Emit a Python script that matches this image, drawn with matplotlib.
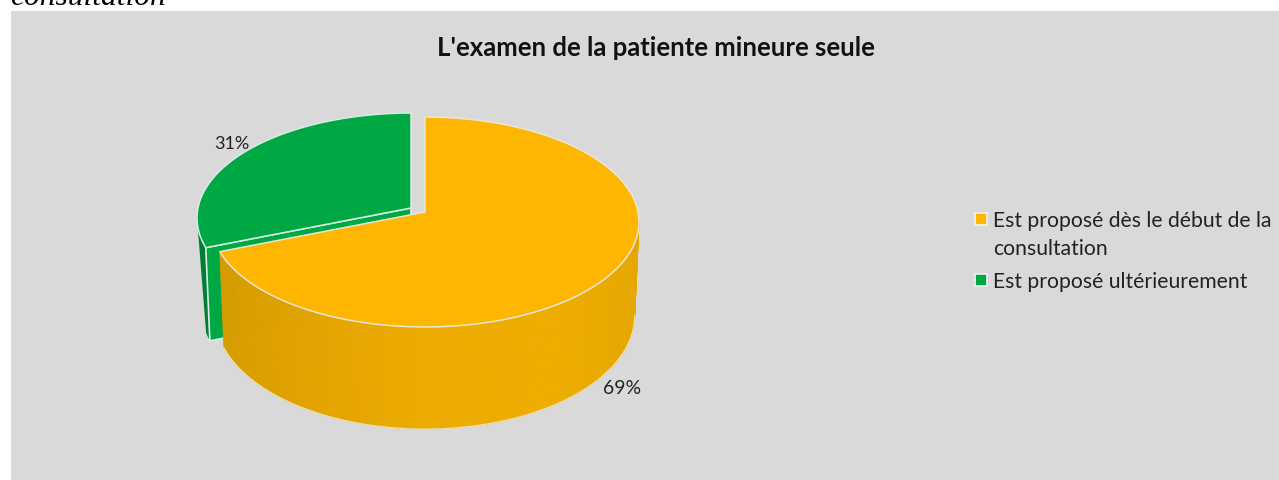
import numpy as np
import matplotlib
matplotlib.use('Agg')
import matplotlib.pyplot as plt
from matplotlib.patches import Polygon, Rectangle

# Chart data
title = "L'examen de la patiente mineure seule"
categories = ['Est proposé dès le début de la\nconsultation', 'Est proposé ultérieurement']
values = [69, 31]
pie_colors = ['#FFB600', '#00A843']

# Pie geometry in pixels, the disc is seen with some perspective
cx, cy = 425, 213
rx, ry = 213, 104
tilt = 0.0952
depth = 93


# Project angles (degrees) of the unit circle to the top surface of the disc
def top_face(theta, dx=0, dy=0):
    t = np.radians(theta)
    w = 1 + tilt * np.sin(t)
    return cx + dx + rx * np.cos(t) / w, cy + dy - ry * np.sin(t) / w


# Same thing for the lower rim, slightly narrower and taller on screen
def bottom_face(theta, dx=0, dy=0):
    t = np.radians(theta)
    w = 1 + tilt * np.sin(t)
    return (cx + dx + 0.98 * rx * np.cos(t) / w,
            cy + dy + depth - 1.08 * ry * np.sin(t) / w)


fig = plt.figure(figsize=(12.79, 4.81), dpi=100)
ax = fig.add_axes([0, 0, 1, 1])
ax.set_xlim(0, 1279)
ax.set_ylim(481, 0)
ax.axis('off')

# Grey chart area, with the cut off line of the document above it
ax.add_patch(Rectangle((10.5, 11.5), 1270, 471, color='#D9D9D9', lw=0, zorder=0))
ax.text(10, 5, 'consultation', family='Liberation Serif', style='italic',
        fontsize=22.7, color='black', va='baseline', ha='left')

# Slice angles, clockwise from the top
start = 90
end_orange = start - 360 * values[0] / sum(values)
end_green = end_orange - 360 * values[1] / sum(values)
edge = '#E9E6D8'

# Green slice, pulled away from the orange one
gx, gy = -14, -4
corner = top_face(end_orange, gx, gy)
corner_low = bottom_face(end_orange, gx, gy - 3)
apex = (cx + gx, cy + gy)
apex_low = (cx + gx, cy + gy + depth)

# outer wall that shows on the far left
xt, yt = top_face(np.linspace(end_orange, end_orange - 12, 12), gx, gy)
xb, yb = bottom_face(np.linspace(end_orange, end_orange - 4, 6), gx, gy - 3)
ax.add_patch(Polygon(np.r_[np.c_[xt, yt], np.c_[xb, yb][::-1]], color='#007F33', lw=0, zorder=1))

# cut face below the green top
ax.add_patch(Polygon([apex, corner, corner_low, apex_low], fc='#00A843', ec='#D8F0E4', lw=1.2, zorder=2))

# top of the green slice
arc = np.linspace(end_orange, end_green, 120)
xa, ya = top_face(arc, gx, gy)
ax.add_patch(Polygon(np.r_[[apex], np.c_[xa, ya]], closed=True, fc=pie_colors[1],
                     ec='#D8ECE4', lw=1.1, zorder=3))

# Orange wall made of thin strips to get the shading
wall = np.linspace(end_orange, -5.46, 141)
shade_x = [205, 300, 420, 560, 640]
shade_r = [212, 226, 236, 238, 230]
shade_g = [155, 163, 171, 173, 167]
for a, b in zip(wall[:-1], wall[1:]):
    xt, yt = top_face(np.array([a, b]))
    xb, yb = bottom_face(np.array([a, b]))
    mid = xt.mean()
    col = (np.interp(mid, shade_x, shade_r) / 255, np.interp(mid, shade_x, shade_g) / 255, 0)
    ax.add_patch(Polygon(np.c_[[xt[0], xt[1], xb[1], xb[0]], [yt[0], yt[1], yb[1], yb[0]]],
                         fc=col, ec=col, lw=0.6, zorder=4))

# rim lines of the wall
xb, yb = bottom_face(wall)
ax.plot(xb, yb, color='#EBDDB0', lw=1.0, zorder=5)

# top of the orange slice
arc = np.linspace(start, end_orange, 240)
xa, ya = top_face(arc)
ax.add_patch(Polygon(np.r_[[(cx, cy)], np.c_[xa, ya]], closed=True, fc=pie_colors[0],
                     ec=edge, lw=1.1, zorder=6))

# Percent labels
ax.text(231.5, 144.5, f'{values[1]}%', fontsize=13, family='Lato', color='#222222',
        ha='center', va='center', zorder=7)
ax.text(622, 388.5, f'{values[0]}%', fontsize=14, family='Lato', color='#222222',
        ha='center', va='center', zorder=7)

# Title
ax.text(656, 48, title, fontsize=18.5, family='Lato', weight='bold', color='#111111',
        ha='center', va='center')

# Legend
legend_y = [220, 281]
for label, color, y in zip(categories, pie_colors, legend_y):
    ax.add_patch(Rectangle((975, y - 6.5), 12, 12, fc=color, ec='#F2F2F2', lw=1.2))
    for i, line in enumerate(label.split('\n')):
        ax.text(993, y + 1.5 + i * 28, line, fontsize=15.2, family='Lato', color='#222222',
                ha='left', va='center')

fig.savefig('out.png', dpi=100, facecolor='white')
